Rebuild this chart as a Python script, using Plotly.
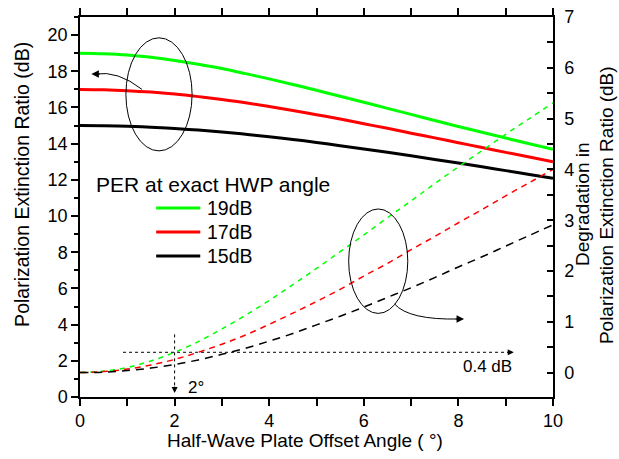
import plotly.graph_objects as go

# HWP offset angle (degrees)
angle = [0, 0.5, 1, 1.5, 2, 2.5, 3, 3.5, 4, 4.5, 5, 5.5, 6, 6.5, 7, 7.5, 8, 8.5, 9, 9.5, 10]

# Polarization extinction ratio (dB) vs offset angle, one list per starting PER
per_19 = [19.00, 18.97, 18.90, 18.77, 18.60, 18.39, 18.15, 17.87, 17.58, 17.27, 16.95,
          16.62, 16.29, 15.95, 15.62, 15.28, 14.95, 14.63, 14.31, 14.00, 13.69]
per_17 = [17.00, 16.98, 16.93, 16.85, 16.74, 16.60, 16.44, 16.26, 16.05, 15.83, 15.60,
          15.36, 15.10, 14.85, 14.58, 14.32, 14.05, 13.79, 13.52, 13.26, 13.00]
per_15 = [15.00, 14.99, 14.96, 14.91, 14.84, 14.75, 14.64, 14.52, 14.38, 14.23, 14.07,
          13.89, 13.71, 13.52, 13.33, 13.13, 12.93, 12.72, 12.51, 12.30, 12.09]

# Degradation of the PER (dB)
deg_19 = [0.00, 0.03, 0.10, 0.23, 0.40, 0.61, 0.86, 1.13, 1.42, 1.73, 2.05,
          2.38, 2.71, 3.05, 3.38, 3.72, 4.05, 4.37, 4.69, 5.00, 5.31]
deg_17 = [0.00, 0.02, 0.07, 0.15, 0.26, 0.40, 0.56, 0.74, 0.95, 1.17, 1.40,
          1.64, 1.90, 2.15, 2.42, 2.68, 2.95, 3.21, 3.48, 3.74, 4.00]
deg_15 = [0.00, 0.01, 0.04, 0.09, 0.16, 0.25, 0.36, 0.48, 0.62, 0.77, 0.94,
          1.11, 1.29, 1.48, 1.67, 1.87, 2.08, 2.28, 2.49, 2.70, 2.91]

series_names = ["19dB", "17dB", "15dB"]
series_colors = ["#00ff00", "#ff0000", "#000000"]
series_dash = ["5px,5px", "6px,5px", "8px,6px"]
per_values = [per_19, per_17, per_15]
deg_values = [deg_19, deg_17, deg_15]

FONT = "Liberation Sans, Arial, sans-serif"

fig = go.Figure()

for name, color, per in zip(series_names, series_colors, per_values):
    fig.add_trace(go.Scatter(x=angle, y=per, mode="lines", name=name,
                             line=dict(color=color, width=3, shape="spline"),
                             showlegend=False))

for name, color, dash, deg in zip(series_names, series_colors, series_dash, deg_values):
    fig.add_trace(go.Scatter(x=angle, y=deg, mode="lines", name=name + " degradation",
                             yaxis="y2",
                             line=dict(color=color, width=1.5, dash=dash, shape="spline"),
                             showlegend=False))

shapes = []
annotations = []

PW, PH = 472.0, 380.0  # plot area size in px


def px_x(p):
    return (p - 80) / PW


def px_y(p):
    return (397 - p) / PH


def text(x, y, s, size, angle=0, xanchor="center"):
    return dict(xref="paper", yref="paper", x=px_x(x), y=px_y(y), text=s,
                xanchor=xanchor, yanchor="middle", showarrow=False, textangle=angle,
                font=dict(size=size, family=FONT, color="black"))


# Axis titles
annotations.append(text(305, 440, "Half-Wave Plate Offset Angle ( °)", 19))
annotations.append(text(22, 184, "Polarization Extinction Ratio (dB)", 19.5, -90))
annotations.append(text(581, 204, "Degradation in", 19, -90))
annotations.append(text(605, 205, "Polarization Extinction Ratio (dB)", 19, -90))

# Legend block: title plus one line sample per series
annotations.append(text(94, 184, "PER at exact HWP angle", 21, xanchor="left"))
for i, (name, color) in enumerate(zip(series_names, series_colors)):
    yy = 208 + 24 * i
    shapes.append(dict(type="line", xref="paper", yref="paper",
                       x0=px_x(156), x1=px_x(200), y0=px_y(yy), y1=px_y(yy),
                       line=dict(color=color, width=3)))
    annotations.append(text(205, yy, name, 19.5, xanchor="left"))

# Ellipses grouping the curve families
shapes.append(dict(type="circle", xref="x", yref="y", x0=0.97, x1=2.37, y0=13.6, y1=19.85,
                   line=dict(color="black", width=1)))
shapes.append(dict(type="circle", xref="x", yref="y", x0=5.68, x1=6.93, y0=4.62, y1=10.39,
                   line=dict(color="black", width=1)))

# Curved pointers towards the relevant axis
shapes.append(dict(type="path", xref="x", yref="y",
                   path="M 1.31 17.00 Q 0.80 18.05 0.32 17.85",
                   line=dict(color="black", width=1)))
annotations.append(dict(x=0.24, y=17.85, xref="x", yref="y", ax=10, ay=0,
                        text="", showarrow=True, arrowhead=2, arrowsize=1.5,
                        arrowwidth=1, arrowcolor="black"))
shapes.append(dict(type="path", xref="x", yref="y",
                   path="M 6.65 5.14 Q 6.95 4.25 8.02 4.31",
                   line=dict(color="black", width=1)))
annotations.append(dict(x=8.12, y=4.31, xref="x", yref="y", ax=-10, ay=0,
                        text="", showarrow=True, arrowhead=2, arrowsize=1.5,
                        arrowwidth=1, arrowcolor="black"))

# 0.4 dB level and 2 degree marker
shapes.append(dict(type="line", xref="x", yref="y2", x0=0.91, x1=9.1, y0=0.4, y1=0.4,
                   line=dict(color="black", width=1, dash="dot")))
annotations.append(dict(x=9.17, y=0.4, xref="x", yref="y2", ax=-8, ay=0,
                        text="", showarrow=True, arrowhead=2, arrowsize=1.2,
                        arrowwidth=1, arrowcolor="black"))
shapes.append(dict(type="line", xref="x", yref="y", x0=2, x1=2, y0=3.46, y1=0.4,
                   line=dict(color="black", width=1, dash="dot")))
annotations.append(dict(x=2, y=0.22, xref="x", yref="y", ax=0, ay=-8,
                        text="", showarrow=True, arrowhead=2, arrowsize=1.2,
                        arrowwidth=1, arrowcolor="black"))
annotations.append(dict(x=2.24, y=0.5, xref="x", yref="y", xanchor="left", yanchor="middle",
                        text="2°", showarrow=False, font=dict(size=17, family=FONT, color="black")))
annotations.append(dict(x=9.17, y=0.12, xref="x", yref="y2", xanchor="right", yanchor="middle",
                        text="0.4 dB", showarrow=False, font=dict(size=17, family=FONT, color="black")))

fig.update_layout(
    width=619, height=459,
    margin=dict(l=80, r=66, t=17, b=62),
    paper_bgcolor="white", plot_bgcolor="white",
    font=dict(family=FONT, size=18, color="black"),
    shapes=shapes, annotations=annotations,
    xaxis=dict(range=[0, 10], dtick=2, tick0=0, showgrid=False, zeroline=False,
               showline=True, linecolor="black", linewidth=1.5, mirror="allticks",
               ticks="outside", ticklen=7, tickwidth=1.5, tickcolor="black",
               minor=dict(dtick=1, ticks="outside", ticklen=4, tickwidth=1.5, tickcolor="black"),
               tickfont=dict(size=18), automargin=False),
    yaxis=dict(range=[0, 21], dtick=2, tick0=0, showgrid=False, zeroline=False,
               showline=True, linecolor="black", linewidth=1.5,
               ticks="outside", ticklen=7, tickwidth=1.5, tickcolor="black",
               minor=dict(dtick=1, ticks="outside", ticklen=4, tickwidth=1.5, tickcolor="black"),
               tickfont=dict(size=18), automargin=False),
    yaxis2=dict(range=[-0.48, 7], dtick=1, tick0=0, overlaying="y", side="right",
                showgrid=False, zeroline=False,
                showline=True, linecolor="black", linewidth=1.5,
                ticks="inside", ticklen=6, tickwidth=1.5, tickcolor="black",
                minor=dict(dtick=0.5, ticks="inside", ticklen=6, tickwidth=1.5, tickcolor="black"),
                ticklabelstandoff=6,
                tickfont=dict(size=18), automargin=False),
)

fig.write_html("out.html")
